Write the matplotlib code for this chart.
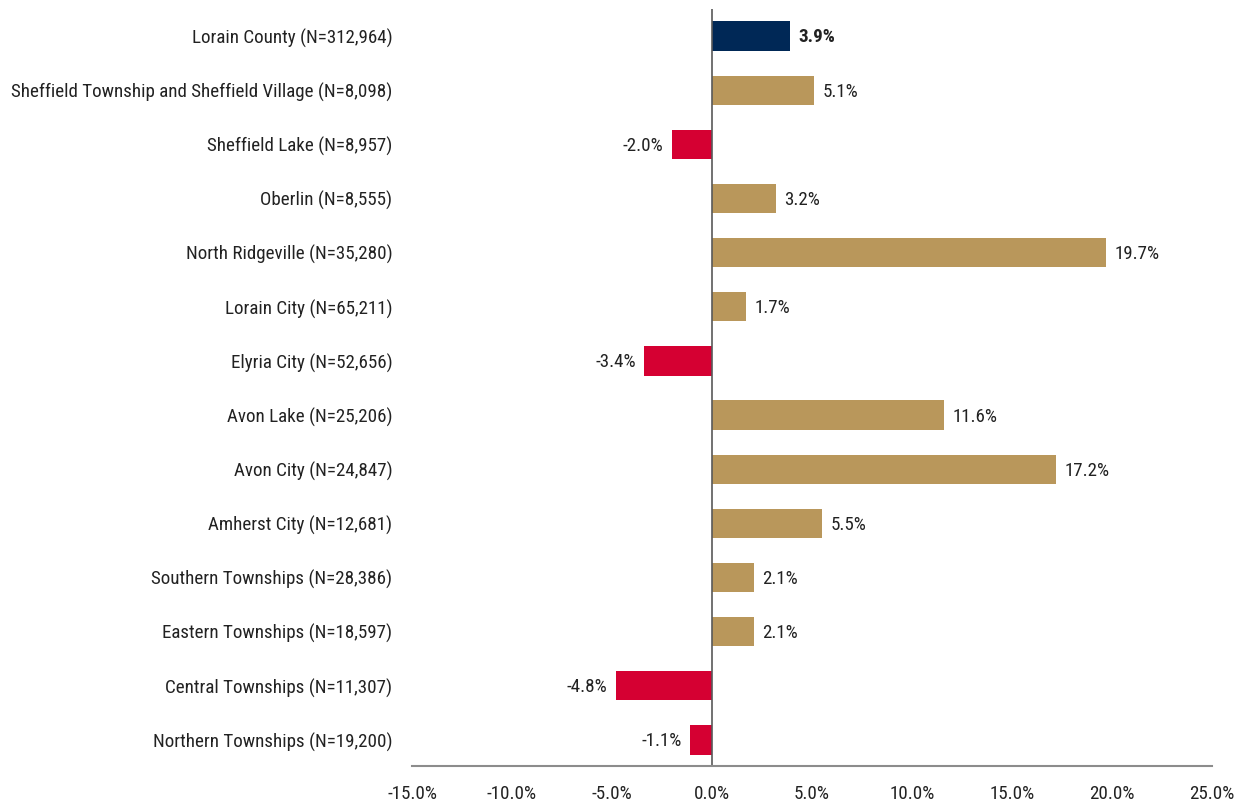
import matplotlib
matplotlib.use("Agg")
import matplotlib.pyplot as plt
from matplotlib import font_manager

# Roboto Condensed if present, otherwise plain Roboto
names = set(f.name for f in font_manager.fontManager.ttflist)
base_font = 'Roboto Condensed' if 'Roboto Condensed' in names else 'Roboto'
plt.rcParams['font.family'] = [base_font, 'DejaVu Sans']

categories = [
    "Lorain County (N=312,964)",
    "Sheffield Township and Sheffield Village (N=8,098)",
    "Sheffield Lake (N=8,957)",
    "Oberlin (N=8,555)",
    "North Ridgeville (N=35,280)",
    "Lorain City (N=65,211)",
    "Elyria City (N=52,656)",
    "Avon Lake (N=25,206)",
    "Avon City (N=24,847)",
    "Amherst City (N=12,681)",
    "Southern Townships (N=28,386)",
    "Eastern Townships (N=18,597)",
    "Central Townships (N=11,307)",
    "Northern Townships (N=19,200)",
]
values = [3.9, 5.1, -2.0, 3.2, 19.7, 1.7, -3.4, 11.6, 17.2, 5.5, 2.1, 2.1, -4.8, -1.1]
x_ticks = [-15, -10, -5, 0, 5, 10, 15, 20, 25]

NAVY = '#002856'
GOLD = '#B9975B'
RED = '#D50032'
TEXT = '#222222'
FS = 13.7

colors = []
for i, v in enumerate(values):
    if i == 0:
        colors.append(NAVY)
    elif v < 0:
        colors.append(RED)
    else:
        colors.append(GOLD)

fig = plt.figure(figsize=(12.45, 8.06), dpi=100)
ax = fig.add_axes([412 / 1245, 1 - 766 / 806, 800 / 1245, 757 / 806])

ypos = list(range(len(values)))
ax.barh(ypos, values, height=0.54, color=colors)

for i, v in enumerate(values):
    txt = f"{v:.1f}%"
    weight = 'bold' if i == 0 else 'normal'
    if v >= 0:
        ax.annotate(txt, (v, i), xytext=(6, -1), textcoords='offset points',
                    ha='left', va='center', fontsize=FS, color=TEXT, fontweight=weight)
    else:
        ax.annotate(txt, (v, i), xytext=(-6, -1), textcoords='offset points',
                    ha='right', va='center', fontsize=FS, color=TEXT, fontweight=weight)

ax.set_xlim(-15, 25)
ax.set_ylim(len(values) - 0.52, -0.5)
ax.set_yticks(ypos)
ax.set_yticklabels(categories, fontsize=FS, color=TEXT)
ax.set_xticks(x_ticks)
ax.set_xticklabels([f"{t:.1f}%" for t in x_ticks], fontsize=FS, color=TEXT)
ax.tick_params(axis='x', length=0, pad=14)
ax.tick_params(axis='y', length=0, pad=14)

for s in ['top', 'right', 'left']:
    ax.spines[s].set_visible(False)
ax.spines['bottom'].set_color('#8c8c8c')
ax.spines['bottom'].set_linewidth(1.5)
ax.axvline(0, color='#595959', linewidth=1.2)

fig.savefig('out.png', dpi=100)
